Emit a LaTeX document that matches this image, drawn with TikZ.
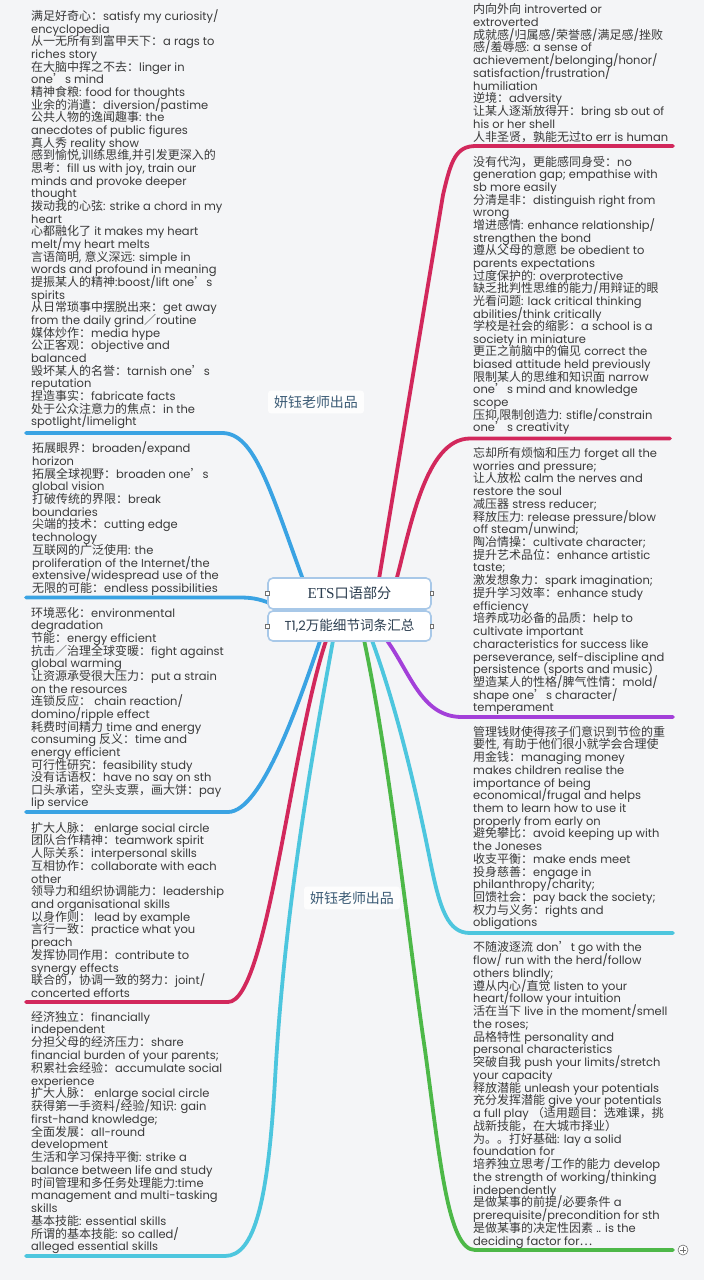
\documentclass[tikz,border=0pt]{standalone}
\usepackage{fontspec}
\setmainfont{Poppins}
\newfontfamily\cjkf[Scale=1.0435]{Noto Sans CJK SC}
\newfontfamily\serf[Scale=1.12]{Liberation Serif}
% automatic switch to the CJK font for CJK characters
\XeTeXinterchartokenstate=1
\newXeTeXintercharclass\CJKcls
\newcount\cjkc
\def\setcjkrange#1#2{\cjkc=#1\relax\loop\XeTeXcharclass\cjkc=\CJKcls\relax\ifnum\cjkc<#2\relax\advance\cjkc by 1\repeat}
\setcjkrange{"4E00}{"9FFF}
\setcjkrange{"3000}{"303F}
\setcjkrange{"FF00}{"FFEF}
\XeTeXcharclass"2018=\CJKcls
\XeTeXcharclass"2019=\CJKcls
\XeTeXcharclass"201C=\CJKcls
\XeTeXcharclass"201D=\CJKcls
\XeTeXcharclass"2026=\CJKcls
\XeTeXinterchartoks 0 \CJKcls={\cjkf}
\XeTeXinterchartoks 4095 \CJKcls={\cjkf}
\XeTeXinterchartoks \CJKcls 0={\rmfamily}
\XeTeXinterchartoks \CJKcls 4095={\rmfamily}
\XeTeXinterchartoks 4095 0={\rmfamily}
\newcommand\fstrut{\rule{0pt}{11pt}}
\definecolor{bgc}{HTML}{F4F5F7}
\definecolor{txtc}{HTML}{3A3A3A}
\definecolor{cblue}{HTML}{3AA3E3}
\definecolor{cred}{HTML}{D2285C}
\definecolor{ccyan}{HTML}{4DC6DE}
\definecolor{cgreen}{HTML}{4DB848}
\definecolor{cpurple}{HTML}{A340D9}
\definecolor{boxc}{HTML}{A8C8E8}
\definecolor{titc}{HTML}{2C3E50}
\definecolor{wmc}{HTML}{3B5B75}
\definecolor{hdlc}{HTML}{707070}
\tikzset{
  txt/.style={anchor=north west, inner sep=0pt, align=left, text=txtc,
    font={\fontsize{11.5}{#1}\selectfont\lineskiplimit=-20pt}},
  br/.style={draw=#1, line width=3.8pt, line cap=round, line join=round},
  tbox/.style={draw=boxc, line width=1.6pt, fill=white, rounded corners=5pt,
    minimum width=163pt, inner sep=0pt, text=titc},
  hdl/.style={draw=hdlc, fill=white, line width=0.6pt, minimum size=3.6pt, inner sep=0pt},
  wm/.style={fill=white, fill opacity=0.85, text opacity=1, rounded corners=3pt,
    inner xsep=6pt, inner ysep=5pt, text=wmc, font={\fontsize{13.4}{16}\selectfont}},
  expander/.style={circle, draw=hdlc, fill=white, line width=0.6pt, minimum size=10pt, inner sep=0pt}
}
\begin{document}
\begin{tikzpicture}[x=1pt,y=-1pt]
\useasboundingbox (0,0) rectangle (704,1280);
\fill[bgc] (0,0) rectangle (704,1280);

% ---------- attach points ----------
\coordinate (sL1) at (305,585);
\coordinate (sL2) at (275,605);
\coordinate (sL3) at (322,635);
\coordinate (sL4) at (328,635);
\coordinate (sL5) at (334,635);
\coordinate (sR1) at (378,585);
\coordinate (sR2) at (395,585);
\coordinate (sR3) at (383,635);
\coordinate (sR4) at (370,635);
\coordinate (sR5) at (363,635);
\coordinate (eL1) at (26,433);
\coordinate (eL2) at (26,597.5);
\coordinate (eL3) at (26,812);
\coordinate (eL4) at (26,1002);
\coordinate (eL5) at (26,1256);
\coordinate (eR1) at (673,146);
\coordinate (eR2) at (670,438.5);
\coordinate (eR3) at (673,717);
\coordinate (eR4) at (673,933);
\coordinate (eR5) at (673,1250);

% ---------- branches ----------
\draw[br=cblue] (sL1) .. controls (270,490) and (255,433) .. (222,433) -- (eL1);
\draw[br=cblue] (sL2) .. controls (262,600) and (255,597.5) .. (240,597.5) -- (eL2);
\draw[br=cblue] (sL3) .. controls (300,700) and (262,812) .. (228,812) -- (eL3);
\draw[br=cred] (sL4) .. controls (292,735) and (268,1002) .. (228,1002) -- (eL4);
\draw[br=ccyan] (sL5) .. controls (315,740) and (285,900) .. (275,1080)
   .. controls (268,1200) and (255,1256) .. (225,1256) -- (eL5);
\draw[br=cred] (sR1) -- (443,195) .. controls (451,160) and (456,146) .. (476,146) -- (eR1);
\draw[br=cred] (sR2) .. controls (410,530) and (425,438.5) .. (470,438.5) -- (eR2);
\draw[br=cpurple] (sR3) .. controls (410,670) and (420,717) .. (462,717) -- (eR3);
\draw[br=ccyan] (sR4) .. controls (398,710) and (418,800) .. (430,860)
   .. controls (440,910) and (448,933) .. (470,933) -- (eR4);
\draw[br=cgreen] (sR5) .. controls (390,760) and (410,950) .. (425,1050)
   .. controls (440,1160) and (448,1250) .. (475,1250) -- (eR5);

\node[expander] (plus) at (683,1250) {};
\draw[hdlc, line width=0.7pt] ([xshift=2.2pt]plus.west) -- ([xshift=-2.2pt]plus.east);
\draw[hdlc, line width=0.7pt] ([yshift=-2.2pt]plus.north) -- ([yshift=2.2pt]plus.south);

% ---------- central topic ----------
\node[tbox, minimum height=31pt] (title) at (349.5,593.5)
  {\XeTeXinterchartokenstate=0 \fontsize{13.6}{16}\selectfont{\serf ETS}{\cjkf 口语部分}};
\node[tbox, minimum height=30pt, font={\fontsize{13}{16}\selectfont}] (subtitle) at (349.5,626) {T1,2万能细节词条汇总};
\node[hdl] (h1) at (title.west) {};
\node[hdl] (h2) at (title.east) {};
\node[hdl] (h3) at (subtitle.west) {};
\node[hdl] (h4) at (subtitle.east) {};

% ---------- watermarks ----------
\node[wm] (wm1) at (316,402) {妍钰老师出品};
\node[wm] (wm2) at (352,898) {妍钰老师出品};

% ---------- left blocks ----------
\node[txt=12.67] (l1) at (31,9.3) {\fstrut 满足好奇心：satisfy my curiosity/\\
encyclopedia\\
从一无所有到富甲天下：a rags to\\
riches story\\
在大脑中挥之不去：linger in\\
one’s mind\\
精神食粮: food for thoughts\\
业余的消遣：diversion/pastime\\
公共人物的逸闻趣事: the\\
anecdotes of public figures\\
真人秀 reality show\\
感到愉悦,训练思维,并引发更深入的\\
思考：fill us with joy, train our\\
minds and provoke deeper\\
thought\\
拨动我的心弦: strike a chord in my\\
heart\\
心都融化了 it makes my heart\\
melt/my heart melts\\
言语简明, 意义深远: simple in\\
words and profound  in meaning\\
提振某人的精神:boost/lift  one’s\\
spirits\\
从日常琐事中摆脱出来：get away\\
from the daily grind／routine\\
媒体炒作：media hype\\
公正客观：objective and\\
balanced\\
毁坏某人的名誉：tarnish one’s\\
reputation\\
捏造事实：fabricate facts\\
处于公众注意力的焦点：in the\\
spotlight/limelight};

\node[txt=12.71] (l2) at (32,441.5) {\fstrut 拓展眼界：broaden/expand\\
horizon\\
拓展全球视野：broaden one’s\\
global vision\\
打破传统的界限：break\\
boundaries\\
尖端的技术：cutting edge\\
technology\\
互联网的广泛使用: the\\
proliferation of the Internet/the\\
extensive/widespread use of the\\
无限的可能：endless possibilities};

\node[txt=12.65] (l3) at (31,606) {\fstrut 环境恶化：environmental\\
degradation\\
节能：energy efficient\\
抗击／治理全球变暖：fight against\\
global warming\\
让资源承受很大压力：put a strain\\
on the resources\\
连锁反应： chain reaction/\\
domino/ripple  effect\\
耗费时间精力 time and energy\\
consuming  反义：time and\\
energy efficient\\
可行性研究：feasibility study\\
没有话语权：have no say on sth\\
口头承诺，空头支票，画大饼：pay\\
lip service};

\node[txt=12.72] (l4) at (31,821) {\fstrut 扩大人脉： enlarge social circle\\
团队合作精神：teamwork spirit\\
人际关系：interpersonal skills\\
互相协作：collaborate with each\\
other\\
领导力和组织协调能力：leadership\\
and organisational  skills\\
以身作则： lead by example\\
言行一致：practice what you\\
preach\\
发挥协同作用：contribute to\\
synergy effects\\
联合的，协调一致的努力：joint/\\
concerted efforts};

\node[txt=12.76] (l5) at (31,1010) {\fstrut 经济独立：financially\\
independent\\
分担父母的经济压力：share\\
financial burden of your parents;\\
积累社会经验：accumulate social\\
experience\\
扩大人脉： enlarge social circle\\
获得第一手资料/经验/知识: gain\\
first-hand knowledge;\\
全面发展：all-round\\
development\\
生活和学习保持平衡: strike a\\
balance between  life and study\\
时间管理和多任务处理能力:time\\
management and multi-tasking\\
skills\\
基本技能: essential skills\\
所谓的基本技能: so called/\\
alleged essential skills};

% ---------- right blocks ----------
\node[txt=12.75] (r1) at (473,2.5) {\fstrut 内向外向  introverted or\\
extroverted\\
成就感/归属感/荣誉感/满足感/挫败\\
感/羞辱感: a sense of\\
achievement/belonging/honor/\\
satisfaction/frustration/\\
humiliation\\
逆境：adversity\\
让某人逐渐放得开：bring sb out of\\
his or her shell\\
人非圣贤，孰能无过to err is human};

\node[txt=12.65] (r2) at (473,155) {\fstrut 没有代沟，更能感同身受：no\\
generation gap; empathise with\\
sb more easily\\
分清是非：distinguish right from\\
wrong\\
增进感情: enhance relationship/\\
strengthen the bond\\
遵从父母的意愿 be obedient to\\
parents expectations\\
过度保护的: overprotective\\
缺乏批判性思维的能力/用辩证的眼\\
光看问题: lack critical thinking\\
abilities/think critically\\
学校是社会的缩影：a school is a\\
society in miniature\\
更正之前脑中的偏见 correct the\\
biased attitude held previously\\
限制某人的思维和知识面 narrow\\
one’s mind and knowledge\\
scope\\
压抑,限制创造力: stifle/constrain\\
one’s creativity};

\node[txt=12.72] (r3) at (473,446.3) {\fstrut 忘却所有烦恼和压力 forget all the\\
worries and pressure;\\
让人放松  calm the nerves and\\
restore the soul\\
减压器 stress reducer;\\
释放压力: release pressure/blow\\
off steam/unwind;\\
陶冶情操：cultivate character;\\
提升艺术品位：enhance artistic\\
taste;\\
激发想象力：spark imagination;\\
提升学习效率：enhance study\\
efficiency\\
培养成功必备的品质：help to\\
cultivate important\\
characteristics for success like\\
perseverance, self-discipline and\\
persistence (sports and music)\\
塑造某人的性格/脾气性情：mold/\\
shape one’s character/\\
temperament};

\node[txt=12.71] (r4) at (473,725) {\fstrut 管理钱财使得孩子们意识到节俭的重\\
要性, 有助于他们很小就学会合理使\\
用金钱：managing money\\
makes children realise the\\
importance of being\\
economical/frugal and helps\\
them to learn how to use  it\\
properly from early on\\
避免攀比：avoid keeping up with\\
the Joneses\\
收支平衡：make ends meet\\
投身慈善：engage in\\
philanthropy/charity;\\
回馈社会：pay back the society;\\
权力与义务：rights and\\
obligations};

\node[txt=12.75] (r5) at (473,940.7) {\fstrut 不随波逐流 don’t go with the\\
flow/ run with the herd/follow\\
others blindly;\\
遵从内心/直觉  listen to your\\
heart/follow your intuition\\
活在当下 live in the moment/smell\\
the roses;\\
品格特性 personality and\\
personal characteristics\\
突破自我 push your limits/stretch\\
your capacity\\
释放潜能 unleash your potentials\\
充分发挥潜能 give your potentials\\
a full play （适用题目：选难课，挑\\
战新技能，在大城市择业）\\
为。。打好基础: lay a solid\\
foundation for\\
培养独立思考/工作的能力 develop\\
the strength of working/thinking\\
independently\\
是做某事的前提/必要条件 a\\
prerequisite/precondition for sth\\
是做某事的决定性因素 .. is the\\
deciding factor for…};
\end{tikzpicture}
\end{document}
